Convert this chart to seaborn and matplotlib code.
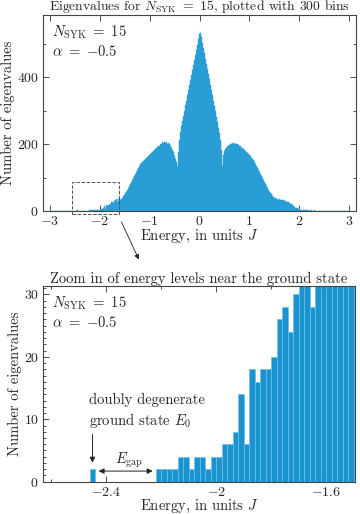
import numpy as np
import pandas as pd
import seaborn as sns
import matplotlib.pyplot as plt
from matplotlib.patches import Rectangle
from matplotlib.ticker import MultipleLocator, FuncFormatter

# histogram: 300 bins on [-3, 3], counts
bin_lo, bin_hi, n_bins = -3.0, 3.0, 300
first_bin = -2.46  # left edge of the ground-state bin
counts_from_ground = [
    2, 0, 0, 0, 0, 0, 0, 0, 0, 0,
    0, 0, 2, 2, 2, 2, 4, 4, 2, 4,
    4, 2, 4, 4, 6, 6, 8, 14, 6, 18,
    16, 18, 18, 20, 26, 28, 24, 30, 34, 36,
    28, 36, 38, 34, 36, 40, 44, 48, 54, 58,
    64, 70, 76, 82, 88, 94, 98, 104, 110, 116,
    122, 128, 134, 140, 144, 148, 150, 154, 156, 160,
    162, 166, 168, 172, 174, 176, 180, 182, 186, 188,
    192, 194, 196, 200, 202, 206, 204, 208, 204, 206,
    202, 204, 200, 196, 190, 184, 176, 166, 156, 146,
    134, 178, 214, 236, 254, 270, 286, 300, 316, 330,
    346, 362, 376, 392, 406, 422, 436, 452, 466, 482,
    498, 514, 530, 540, 534, 520, 504, 488, 472, 456,
    440, 424, 410, 394, 378, 362, 346, 330, 314, 298,
    282, 266, 250, 234, 214, 184, 136, 168, 180, 186,
    190, 194, 196, 198, 200, 202, 204, 202, 204, 202,
    200, 200, 198, 196, 194, 190, 188, 186, 182, 180,
    176, 174, 170, 168, 164, 160, 156, 152, 148, 142,
    136, 130, 124, 118, 110, 104, 98, 92, 86, 80,
    74, 68, 64, 58, 54, 50, 46, 42, 40, 38,
    36, 36, 34, 36, 34, 34, 32, 32, 30, 30,
    28, 28, 26, 24, 22, 20, 18, 14, 12, 10,
    8, 8, 6, 6, 4, 4, 4, 2, 2, 2,
    2, 2, 0, 2, 0, 2, 0, 0, 2, 0,
]
zoom_box = (-2.56, -8, -1.61, 87)  # dashed box on the full spectrum

bw = (bin_hi - bin_lo) / n_bins
edges = np.linspace(bin_lo, bin_hi, n_bins + 1)
centers = edges[:-1] + 0.5 * bw
counts = np.zeros(n_bins)
i0 = int(round((first_bin - bin_lo) / bw))
counts[i0:i0 + len(counts_from_ground)] = counts_from_ground
df = pd.DataFrame({'energy': centers, 'count': counts})

sns.set_style('ticks')
plt.rcParams['font.family'] = ['cmr10', 'DejaVu Serif']
plt.rcParams['mathtext.fontset'] = 'cm'
plt.rcParams['axes.formatter.use_mathtext'] = True
plt.rcParams['font.size'] = 10.5
plt.rcParams['axes.edgecolor'] = '#444444'
plt.rcParams['axes.linewidth'] = 0.8

fig = plt.figure(figsize=(3.6, 5.14), dpi=100)
ax1 = fig.add_axes([43/360, 1 - 211/514, 313/360, 196/514])
ax2 = fig.add_axes([43/360, 1 - 481.7/514, 312/360, 196/514])
fmt = FuncFormatter(lambda v, p: '$%g$' % round(v, 6) if v >= 0 else '$-%g$' % round(-v, 6))
params_txt = '$N_{\\rm SYK}\\ =\\ 15$\n$\\alpha\\ =\\ {-0.5}$'

# full spectrum
sns.histplot(data=df, x='energy', weights='count', binwidth=bw, binrange=(bin_lo, bin_hi),
             ax=ax1, color='#299ed6', alpha=1, edgecolor='#299ed6', linewidth=0.3)
ax1.set_xlim(-3.14, 3.14)
ax1.set_ylim(0, 587)
ax1.xaxis.set_major_locator(MultipleLocator(1))
ax1.yaxis.set_major_locator(MultipleLocator(200))
ax1.yaxis.set_minor_locator(MultipleLocator(100))
ax1.set_title(r'Eigenvalues for $N_{\rm SYK}\ =\ 15$, plotted with 300 bins', fontsize=9.8, pad=1)
ax1.set_xlabel(r'Energy, in units $J$', labelpad=0)
ax1.set_ylabel('Number of eigenvalues', labelpad=1)
ax1.text(0.03, 0.955, params_txt, transform=ax1.transAxes,
         va='top', ha='left', linespacing=1.25)
x0, y0, x1, y1 = zoom_box
ax1.add_patch(Rectangle((x0, y0), x1 - x0, y1 - y0, fill=False, ls='--', lw=0.7,
                        ec='#555555', clip_on=False))
ax1.annotate('', xy=(140/360, 1 - 262/514), xycoords='figure fraction',
             xytext=(-1.59, -25), textcoords='data',
             arrowprops=dict(arrowstyle='-|>', color='#222222', lw=0.6,
                             mutation_scale=7))

# zoom near the ground state
sns.histplot(data=df, x='energy', weights='count', binwidth=bw, binrange=(bin_lo, bin_hi),
             ax=ax2, color='#1c93d1', alpha=1, edgecolor='#6cc0ea', linewidth=0.5)
ax2.set_xlim(-2.63, -1.495)
ax2.set_ylim(0, 31.4)
ax2.xaxis.set_major_locator(MultipleLocator(0.4))
ax2.xaxis.set_minor_locator(MultipleLocator(0.2))
ax2.xaxis.set_major_formatter(fmt)
ax2.yaxis.set_major_locator(MultipleLocator(10))
ax2.yaxis.set_minor_locator(MultipleLocator(1))
ax2.set_title('Zoom in of energy levels near the ground state', fontsize=10.5, pad=2)
ax2.set_xlabel(r'Energy, in units $J$', labelpad=-0.5)
ax2.set_ylabel('Number of eigenvalues', labelpad=1)
ax2.text(0.03, 0.955, params_txt, transform=ax2.transAxes,
         va='top', ha='left', linespacing=1.25)
ax2.text(-2.462, 11.3, 'doubly degenerate\nground state $E_0$', ha='left', va='center',
         fontsize=10.5, linespacing=1.25)
ax2.annotate('', xy=(-2.45, 2.6), xytext=(-2.45, 8.0),
             arrowprops=dict(arrowstyle='-|>', color='#222222', lw=0.7, mutation_scale=8))
ax2.annotate('', xy=(-2.221, 1.7), xytext=(-2.438, 1.7),
             arrowprops=dict(arrowstyle='<|-|>', color='#222222', lw=0.7, mutation_scale=8))
ax2.text(-2.318, 3.5, r'$E_{\rm gap}$', ha='center', va='center', fontsize=10.5)

for ax in (ax1, ax2):
    ax.tick_params(which='both', direction='in', top=True, right=True, width=0.6,
                   color='#333333', labelsize=10, pad=3)
    ax.tick_params(which='major', length=4)
    ax.tick_params(which='minor', length=2)

fig.savefig('out.png', dpi=100)
